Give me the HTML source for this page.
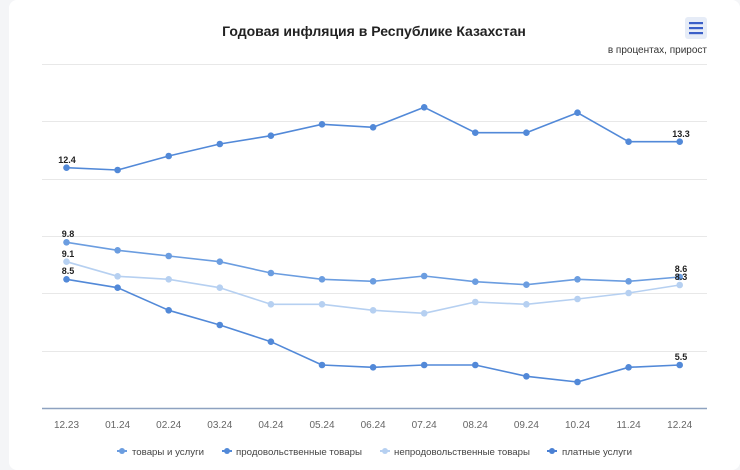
<!DOCTYPE html>
<html><head><meta charset="utf-8"><style>
html,body{margin:0;padding:0;background:#f4f5f7;width:740px;height:460px;overflow:hidden;font-family:"Liberation Sans",sans-serif;}
.card{position:absolute;left:9px;top:0;width:731px;height:470px;background:#fff;border-radius:8px;}
</style></head><body>
<div class="card"></div>
<svg width="740" height="460" style="position:absolute;left:0;top:0" font-family="Liberation Sans, DejaVu Sans, sans-serif">
<text x="374" y="36" text-anchor="middle" font-size="14" font-weight="bold" fill="#222">Годовая инфляция в Республике Казахстан</text>
<rect x="685" y="17" width="22" height="22" rx="3" fill="#e6ecf7"/>
<rect x="689" y="22" width="14" height="2.2" fill="#3a5fc8"/>
<rect x="689" y="27" width="14" height="2.2" fill="#3a5fc8"/>
<rect x="689" y="32" width="14" height="2.2" fill="#3a5fc8"/>
<text x="707" y="53" text-anchor="end" font-size="10" fill="#333">в процентах, прирост</text>
<g stroke="#e8e8e8" stroke-width="1">
<line x1="42" x2="707" y1="64.5" y2="64.5"/><line x1="42" x2="707" y1="121.5" y2="121.5"/>
<line x1="42" x2="707" y1="179.5" y2="179.5"/><line x1="42" x2="707" y1="236.5" y2="236.5"/>
<line x1="42" x2="707" y1="293.5" y2="293.5"/><line x1="42" x2="707" y1="351.5" y2="351.5"/>
</g>
<line x1="42" x2="707" y1="408.5" y2="408.5" stroke="#8ea2c0" stroke-width="1.5"/>
<g font-size="10" fill="#666" text-anchor="middle">
<text x="66.5" y="428">12.23</text><text x="117.6" y="428">01.24</text><text x="168.7" y="428">02.24</text><text x="219.8" y="428">03.24</text><text x="270.9" y="428">04.24</text><text x="322" y="428">05.24</text><text x="373.1" y="428">06.24</text><text x="424.2" y="428">07.24</text><text x="475.3" y="428">08.24</text><text x="526.4" y="428">09.24</text><text x="577.5" y="428">10.24</text><text x="628.6" y="428">11.24</text><text x="679.7" y="428">12.24</text>
</g>
<g fill="none" stroke-width="1.6" stroke-linejoin="round">
<polyline stroke="#5289d8" points="66.5,167.7 117.6,170 168.7,156 219.8,144 270.9,135.7 322,124.3 373.1,127.3 424.2,107.3 475.3,132.7 526.4,132.7 577.5,112.7 628.6,141.7 679.7,141.7"/>
<polyline stroke="#6b9de0" points="66.5,242.3 117.6,250.3 168.7,256 219.8,261.7 270.9,273 322,279.3 373.1,281.3 424.2,276 475.3,281.7 526.4,284.7 577.5,279.3 628.6,281.3 679.7,277"/>
<polyline stroke="#b6d0f1" points="66.5,261.7 117.6,276.3 168.7,279.3 219.8,287.7 270.9,304.3 322,304.3 373.1,310.3 424.2,313.3 475.3,302 526.4,304.3 577.5,299 628.6,293 679.7,285"/>
<polyline stroke="#5289d8" points="66.5,279.3 117.6,287.7 168.7,310.3 219.8,325 270.9,341.7 322,365 373.1,367.3 424.2,365 475.3,365 526.4,376.3 577.5,382 628.6,367.3 679.7,365"/>
</g>
<g fill="#5289d8">
<circle cx="66.5" cy="167.7" r="3.3"/><circle cx="117.6" cy="170" r="3.3"/><circle cx="168.7" cy="156" r="3.3"/><circle cx="219.8" cy="144" r="3.3"/><circle cx="270.9" cy="135.7" r="3.3"/><circle cx="322" cy="124.3" r="3.3"/><circle cx="373.1" cy="127.3" r="3.3"/><circle cx="424.2" cy="107.3" r="3.3"/><circle cx="475.3" cy="132.7" r="3.3"/><circle cx="526.4" cy="132.7" r="3.3"/><circle cx="577.5" cy="112.7" r="3.3"/><circle cx="628.6" cy="141.7" r="3.3"/><circle cx="679.7" cy="141.7" r="3.3"/>
<circle cx="66.5" cy="279.3" r="3.3"/><circle cx="117.6" cy="287.7" r="3.3"/><circle cx="168.7" cy="310.3" r="3.3"/><circle cx="219.8" cy="325" r="3.3"/><circle cx="270.9" cy="341.7" r="3.3"/><circle cx="322" cy="365" r="3.3"/><circle cx="373.1" cy="367.3" r="3.3"/><circle cx="424.2" cy="365" r="3.3"/><circle cx="475.3" cy="365" r="3.3"/><circle cx="526.4" cy="376.3" r="3.3"/><circle cx="577.5" cy="382" r="3.3"/><circle cx="628.6" cy="367.3" r="3.3"/><circle cx="679.7" cy="365" r="3.3"/>
</g>
<g fill="#6b9de0">
<circle cx="66.5" cy="242.3" r="3.3"/><circle cx="117.6" cy="250.3" r="3.3"/><circle cx="168.7" cy="256" r="3.3"/><circle cx="219.8" cy="261.7" r="3.3"/><circle cx="270.9" cy="273" r="3.3"/><circle cx="322" cy="279.3" r="3.3"/><circle cx="373.1" cy="281.3" r="3.3"/><circle cx="424.2" cy="276" r="3.3"/><circle cx="475.3" cy="281.7" r="3.3"/><circle cx="526.4" cy="284.7" r="3.3"/><circle cx="577.5" cy="279.3" r="3.3"/><circle cx="628.6" cy="281.3" r="3.3"/><circle cx="679.7" cy="277" r="3.3"/>
</g>
<g fill="#b6d0f1">
<circle cx="66.5" cy="261.7" r="3.3"/><circle cx="117.6" cy="276.3" r="3.3"/><circle cx="168.7" cy="279.3" r="3.3"/><circle cx="219.8" cy="287.7" r="3.3"/><circle cx="270.9" cy="304.3" r="3.3"/><circle cx="322" cy="304.3" r="3.3"/><circle cx="373.1" cy="310.3" r="3.3"/><circle cx="424.2" cy="313.3" r="3.3"/><circle cx="475.3" cy="302" r="3.3"/><circle cx="526.4" cy="304.3" r="3.3"/><circle cx="577.5" cy="299" r="3.3"/><circle cx="628.6" cy="293" r="3.3"/><circle cx="679.7" cy="285" r="3.3"/>
</g>
<g font-size="9" font-weight="bold" fill="#222" text-anchor="middle">
<text x="67" y="163">12.4</text><text x="68" y="237">9.8</text><text x="68" y="257">9.1</text><text x="68" y="274">8.5</text>
<text x="681" y="137">13.3</text><text x="681" y="272">8.6</text><text x="681" y="280">8.3</text><text x="681" y="360">5.5</text>
</g>
<g font-size="9.5" fill="#444">
<line x1="117" x2="127" y1="451" y2="451" stroke="#6b9de0" stroke-width="2"/><circle cx="122" cy="451" r="3" fill="#6b9de0"/>
<text x="132" y="455" textLength="72" lengthAdjust="spacingAndGlyphs">товары и услуги</text>
<line x1="222" x2="232" y1="451" y2="451" stroke="#5289d8" stroke-width="2"/><circle cx="227" cy="451" r="3" fill="#5289d8"/>
<text x="236" y="455" textLength="126" lengthAdjust="spacingAndGlyphs">продовольственные товары</text>
<line x1="380" x2="390" y1="451" y2="451" stroke="#b6d0f1" stroke-width="2"/><circle cx="385" cy="451" r="3" fill="#b6d0f1"/>
<text x="394" y="455" textLength="136" lengthAdjust="spacingAndGlyphs">непродовольственные товары</text>
<line x1="547" x2="557" y1="451" y2="451" stroke="#4a80d4" stroke-width="2"/><circle cx="552" cy="451" r="3" fill="#4a80d4"/>
<text x="562" y="455" textLength="70" lengthAdjust="spacingAndGlyphs">платные услуги</text>
</g>
</svg>
</body></html>
